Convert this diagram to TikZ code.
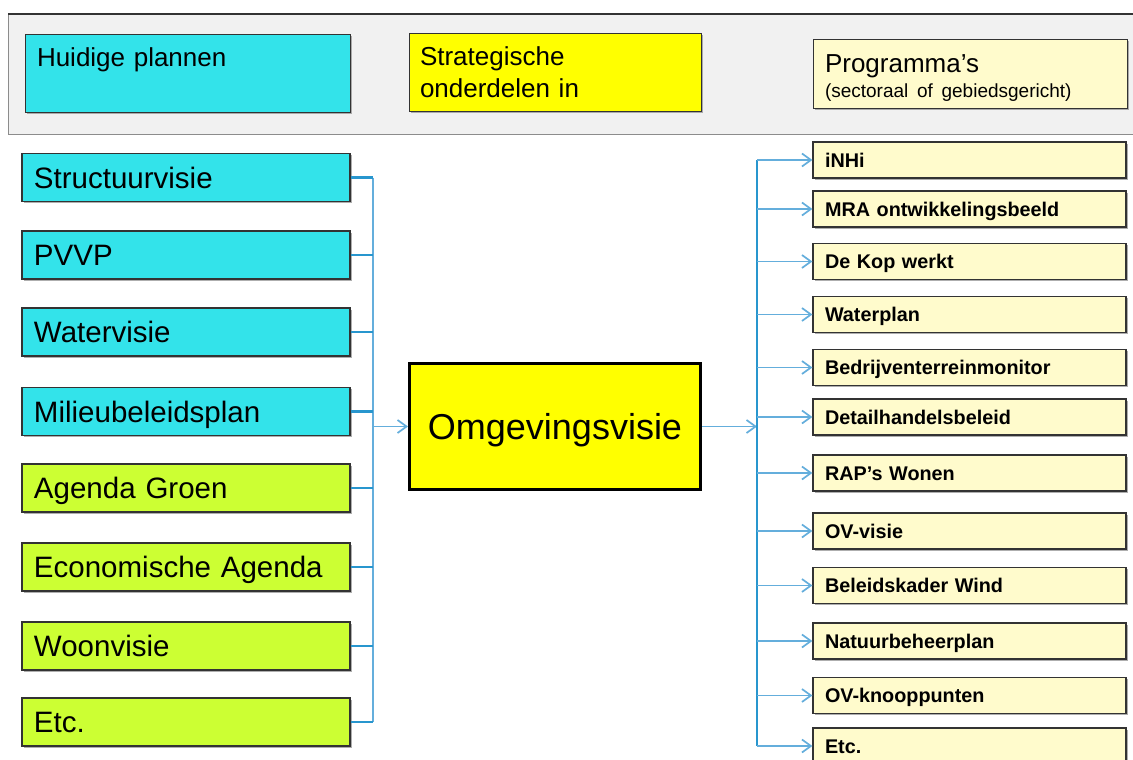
\documentclass[tikz,border=0pt]{standalone}
\usepackage{fontspec}
\setmainfont{Liberation Sans}
\usetikzlibrary{arrows.meta,shadows}
\definecolor{cyanbox}{RGB}{51,227,234}
\definecolor{limebox}{RGB}{204,255,51}
\definecolor{yelbox}{RGB}{255,255,0}
\definecolor{creambox}{RGB}{255,251,204}
\definecolor{bandgray}{RGB}{241,241,241}
\definecolor{lineblue}{RGB}{40,150,206}
\definecolor{lightblue}{RGB}{100,174,220}
\begin{document}
\begin{tikzpicture}[x=1pt,y=-1pt,
  boxshadow/.style={drop shadow={shadow xshift=1.5pt,shadow yshift=-1.5pt,fill=black!45,opacity=.7}},
  legendbox/.style={draw=black!80,line width=1pt,boxshadow,align=left,inner ysep=0pt,
    font=\fontsize{26}{32}\selectfont},
  leftbox/.style={draw=black!80,line width=1.2pt,boxshadow,minimum height=48pt,
    text width=304pt,inner xsep=12pt,inner ysep=0pt,align=left,
    text height=21pt,text depth=0pt,font=\fontsize{29.5}{34}\selectfont},
  planbox/.style={leftbox,fill=cyanbox},
  agendabox/.style={leftbox,fill=limebox},
  progbox/.style={draw=black!80,line width=1.2pt,boxshadow,fill=creambox,minimum height=36pt,
    text width=289pt,inner xsep=12pt,inner ysep=0pt,align=left,
    text height=14pt,text depth=0pt,font=\fontsize{19.8}{23}\selectfont\bfseries},
  centerbox/.style={draw=black,line width=3pt,fill=yelbox,minimum width=291pt,minimum height=126pt,
    inner sep=0pt,text height=26pt,text depth=0pt,font=\fontsize{36}{40}\selectfont,
    drop shadow={shadow xshift=1.5pt,shadow yshift=-1.5pt,fill=black!40,opacity=.6}},
  busline/.style={lightblue,line width=1.8pt},
  feedline/.style={lineblue,line width=2.2pt},
  arrowline/.style={lightblue,line width=1.7pt,-{Straight Barb[length=9pt,width=13pt]}},
  rbus/.style={lineblue,line width=2.8pt}
]
\useasboundingbox (0,0) rectangle (1133,760);
\clip (0,0) rectangle (1133,760);
\fill[white] (0,0) rectangle (1133,760);

% top band
\fill[bandgray] (8,14) rectangle (1140,134);
\draw[black!45,line width=1pt] (1140,134) -- (8,134) -- (8,14);
\draw[black!80,line width=1.6pt] (8,14) -- (1140,14);

% legend
\node[legendbox,fill=cyanbox,text width=301pt,inner xsep=12pt,minimum height=77pt] (lgA) at (187.5,73.5)
  {Huidige plannen\\\mbox{}};
\node[legendbox,fill=yelbox,text width=270pt,inner xsep=11pt,minimum height=77pt] (lgB) at (555,72.5)
  {Strategische\\onderdelen in};
\node[legendbox,fill=creambox,text width=290pt,inner xsep=12pt,minimum height=68pt] (lgC) at (970,74)
  {\rule{0pt}{25pt}Programma’s\\[-7pt]{\fontsize{19}{23}\selectfont(sectoraal of gebiedsgericht)}};

% left boxes
\node[planbox] (l1) at (186,177.5) {Structuurvisie};
\node[planbox] (l2) at (186,255) {PVVP};
\node[planbox] (l3) at (186,332) {Watervisie};
\node[planbox] (l4) at (186,411.5) {Milieubeleidsplan};
\node[agendabox] (l5) at (186,488) {Agenda Groen};
\node[agendabox] (l6) at (186,567) {Economische Agenda};
\node[agendabox] (l7) at (186,646) {Woonvisie};
\node[agendabox] (l8) at (186,722) {Etc.};

% center
\node[centerbox] (ov) at (555,426.5) {Omgevingsvisie};

% right boxes
\node[progbox] (r1) at (969.5,160) {iNHi};
\node[progbox] (r2) at (969.5,209) {MRA ontwikkelingsbeeld};
\node[progbox] (r3) at (969.5,261.5) {De Kop werkt};
\node[progbox] (r4) at (969.5,314.5) {Waterplan};
\node[progbox] (r5) at (969.5,367.5) {Bedrijventerreinmonitor};
\node[progbox] (r6) at (969.5,417) {Detailhandelsbeleid};
\node[progbox] (r7) at (969.5,473) {RAP’s Wonen};
\node[progbox] (r8) at (969.5,531) {OV-visie};
\node[progbox] (r9) at (969.5,585.5) {Beleidskader Wind};
\node[progbox] (r10) at (969.5,641) {Natuurbeheerplan};
\node[progbox] (r11) at (969.5,695.5) {OV-knooppunten};
\node[progbox] (r12) at (969.5,746) {Etc.};

\coordinate (busL) at (373,0);
\coordinate (busR) at (757,0);

% left connectors
\draw[busline] (l1.east -| busL) -- (l8.east -| busL);
\foreach \i in {1,...,8} {
  \draw[feedline] (l\i.east) -- (l\i.east -| busL);
}
\draw[arrowline] (ov.west -| busL) -- (ov.west);

% right connectors
\draw[arrowline] (ov.east) -- (ov.east -| busR);
\draw[rbus] (r1.west -| busR) -- (r12.west -| busR);
\foreach \i in {1,...,12} {
  \draw[arrowline] (r\i.west -| busR) -- (r\i.west);
}
\end{tikzpicture}
\end{document}
